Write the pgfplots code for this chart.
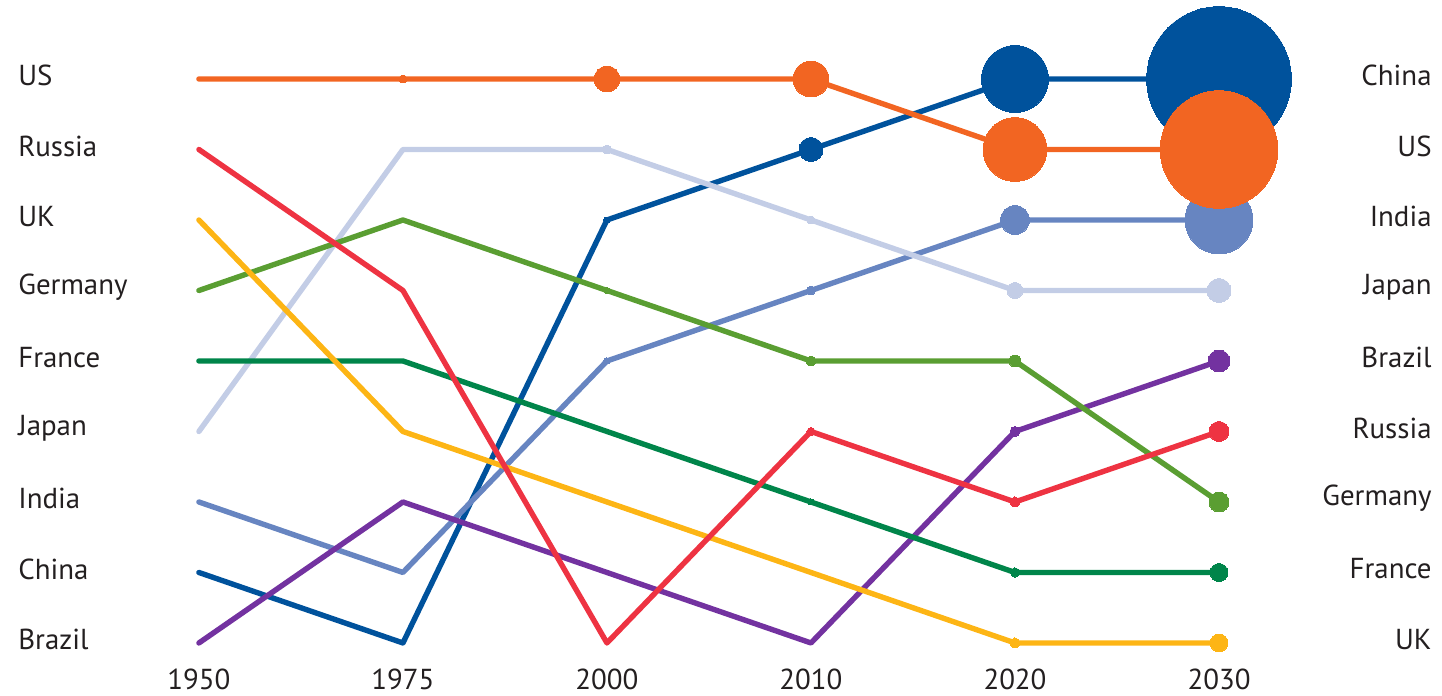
\documentclass[border=0pt]{standalone}
\usepackage{fontspec}
\setmainfont{PT Sans}
\usepackage{pgfplots}
\pgfplotsset{compat=1.18}
\usepackage{pgfplotstable}

\definecolor{cUS}{HTML}{F26522}
\definecolor{cRU}{HTML}{EE3342}
\definecolor{cUK}{HTML}{FDB515}
\definecolor{cDE}{HTML}{5A9E32}
\definecolor{cFR}{HTML}{00854A}
\definecolor{cJP}{HTML}{C3CDE6}
\definecolor{cIN}{HTML}{6785C1}
\definecolor{cCN}{HTML}{00529C}
\definecolor{cBR}{HTML}{7332A0}
\definecolor{txt}{HTML}{231F20}

% ranks: x = 0..5 for 1950, 1975, 2000, 2010, 2020, 2030
\pgfplotstableread{
x y
0 1
1 1
2 1
3 1
4 2
5 2
}\US
\pgfplotstableread{
x y r
1 1 2
2 1 6.5
3 1 9
4 2 16
5 2 29.5
}\USm
\pgfplotstableread{
x y
0 8
1 9
2 3
3 2
4 1
5 1
}\CN
\pgfplotstableread{
x y r
2 3 1.5
3 2 6
4 1 16.8
5 1 36.3
}\CNm
\pgfplotstableread{
x y
0 7
1 8
2 5
3 4
4 3
5 3
}\IN
\pgfplotstableread{
x y r
2 5 1.5
3 4 2.2
4 3 7.2
5 3 17
}\INm
\pgfplotstableread{
x y
0 6
1 2
2 2
3 3
4 4
5 4
}\JP
\pgfplotstableread{
x y r
2 2 2.2
3 3 2
4 4 4
5 4 6
}\JPm
\pgfplotstableread{
x y
0 9
1 7
2 8
3 9
4 6
5 5
}\BR
\pgfplotstableread{
x y r
4 6 2.5
5 5 5.5
}\BRm
\pgfplotstableread{
x y
0 5
1 5
2 6
3 7
4 8
5 8
}\FR
\pgfplotstableread{
x y r
3 7 1.5
4 8 2.3
5 8 4.5
}\FRm
\pgfplotstableread{
x y
0 4
1 3
2 4
3 5
4 5
5 7
}\DE
\pgfplotstableread{
x y r
2 4 1.5
3 5 2.5
4 5 3
5 7 5
}\DEm
\pgfplotstableread{
x y
0 3
1 6
2 7
3 8
4 9
5 9
}\UK
\pgfplotstableread{
x y r
4 9 2.5
5 9 4.5
}\UKm
\pgfplotstableread{
x y
0 2
1 4
2 9
3 6
4 7
5 6
}\RU
\pgfplotstableread{
x y r
3 6 2
4 7 2.5
5 6 5
}\RUm

\pgfplotsset{
  ln/.style={no marks, line width=2.7bp, line join=round, line cap=round, color=#1},
  bub/.style={scatter, only marks, mark=*, color=#1,
    mark options={draw=#1, fill=#1, line width=0pt},
    scatter/use mapped color={draw=#1, fill=#1},
    visualization depends on={\thisrow{r}\as\rr},
    scatter/@pre marker code/.append style={/tikz/mark size=\rr}},
}

\begin{document}
\begin{tikzpicture}
\begin{axis}[
  scale only axis,
  width=721bp, height=348bp,
  xmin=-0.975, xmax=6.093,
  ymin=-0.1206, ymax=9.752,
  y dir=reverse,
  axis lines=none,
  ticks=none,
  clip=false,
]
\path (rel axis cs:0,0) rectangle (rel axis cs:1,1);
\addplot[ln=cCN] table {\CN};
\addplot[bub=cCN] table {\CNm};
\addplot[ln=cIN] table {\IN};
\addplot[bub=cIN] table {\INm};
\addplot[ln=cJP] table {\JP};
\addplot[bub=cJP] table {\JPm};
\addplot[ln=cBR] table {\BR};
\addplot[bub=cBR] table {\BRm};
\addplot[ln=cFR] table {\FR};
\addplot[bub=cFR] table {\FRm};
\addplot[ln=cDE] table {\DE};
\addplot[bub=cDE] table {\DEm};
\addplot[ln=cUK] table {\UK};
\addplot[bub=cUK] table {\UKm};
\addplot[ln=cRU] table {\RU};
\addplot[bub=cRU] table {\RUm};
\addplot[ln=cUS] table {\US};
\addplot[bub=cUS] table {\USm};

\begin{scope}[every node/.style={font=\fontsize{14.5}{17}\selectfont, text=txt, inner sep=0pt}]
% left labels (1950 ranking)
\foreach \n [count=\i] in {US,Russia,UK,Germany,France,Japan,India,China,Brazil}{
  \edef\tmp{\noexpand\node[anchor=west] at (axis cs:-0.887,\i-0.05) {\n};}\tmp
}
% right labels (2030 ranking)
\foreach \n [count=\i] in {China,US,India,Japan,Brazil,Russia,Germany,France,UK}{
  \edef\tmp{\noexpand\node[anchor=east] at (axis cs:6.044,\i-0.05) {\n};}\tmp
}
% year labels
\foreach \n [count=\i from 0] in {1950,1975,2000,2010,2020,2030}{
  \edef\tmp{\noexpand\node[anchor=center] at (axis cs:\i,9.52) {\n};}\tmp
}
\end{scope}
\end{axis}
\end{tikzpicture}
\end{document}
